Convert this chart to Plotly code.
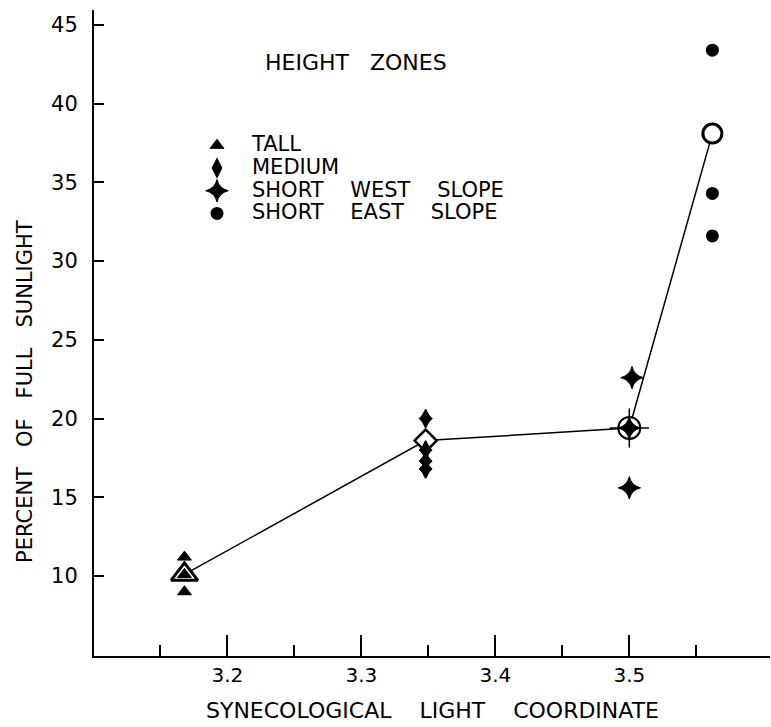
import plotly.graph_objects as go

NB = "\u00a0\u00a0\u00a0"
NB4 = "\u00a0\u00a0\u00a0\u00a0"

# ---- data ----
zone_names = ["TALL", "MEDIUM", "SHORT" + NB4 + "WEST" + NB4 + "SLOPE",
              "SHORT" + NB4 + "EAST" + NB4 + "SLOPE"]

tall_x = [3.168, 3.168, 3.168]
tall_y = [11.2, 10.1, 9.0]

medium_x = [3.348, 3.348, 3.348, 3.348]
medium_y = [20.0, 18.0, 17.3, 16.8]

west_x = [3.502, 3.50, 3.50]
west_y = [22.6, 19.4, 15.6]

east_x = [3.562, 3.562, 3.562]
east_y = [43.4, 34.3, 31.6]

mean_x = [3.168, 3.348, 3.50, 3.562]
mean_y = [10.1, 18.6, 19.4, 38.1]

x_tickvals = [3.2, 3.3, 3.4, 3.5]
x_ticktext = ["3.2", "3.3", "3.4", "3.5"]
x_minorvals = [3.15, 3.25, 3.35, 3.45, 3.55]
y_tickvals = [10, 15, 20, 25, 30, 35, 40, 45]
y_ticktext = ["10", "15", "20", "25", "30", "35", "40", "45"]

FONT = "DejaVu Sans"
BLACK = "black"

fig = go.Figure()

# line joining the means
fig.add_trace(go.Scatter(x=mean_x, y=mean_y, mode="lines",
                         line=dict(color=BLACK, width=1.5), showlegend=False,
                         hoverinfo="skip"))

# open mean markers (white filled so the line is hidden beneath)
mean_symbols = ["triangle-up", "diamond", "circle", "circle"]
mean_sizes = [23, 17, 22, 19]
mean_lw = [3, 2.5, 2, 3]
for i in range(4):
    fig.add_trace(go.Scatter(x=[mean_x[i]], y=[mean_y[i]], mode="markers",
                             marker=dict(symbol=mean_symbols[i], size=mean_sizes[i],
                                         color="white",
                                         line=dict(color=BLACK, width=mean_lw[i])),
                             showlegend=False, hoverinfo="skip"))
# cross hair through the west-slope mean circle
fig.add_trace(go.Scatter(x=[mean_x[2]], y=[mean_y[2]], mode="markers",
                         marker=dict(symbol="cross-thin-open", size=28, color=BLACK,
                                     line=dict(color=BLACK, width=1.5)),
                         showlegend=False, hoverinfo="skip"))

def lab(s):
    return '<span style="font-size:21px">' + s + '</span>'

# individual points
fig.add_trace(go.Scatter(x=tall_x, y=tall_y, mode="markers", name=lab(zone_names[0]),
                         marker=dict(symbol="triangle-up", size=12, color=BLACK,
                                     line=dict(color=BLACK, width=1))))
fig.add_trace(go.Scatter(x=medium_x, y=medium_y, mode="markers", showlegend=False,
                         hoverinfo="skip",
                         marker=dict(symbol="diamond", size=10, color=BLACK,
                                     line=dict(color=BLACK, width=1))))
fig.add_trace(go.Scatter(x=medium_x, y=medium_y, mode="markers", name=lab(zone_names[1]),
                         marker=dict(symbol="diamond-tall", size=13, color=BLACK,
                                     line=dict(color=BLACK, width=1.5))))
fig.add_trace(go.Scatter(x=west_x, y=west_y, mode="markers", showlegend=False,
                         hoverinfo="skip",
                         marker=dict(symbol="diamond", size=8, color=BLACK,
                                     line=dict(color=BLACK, width=1))))
fig.add_trace(go.Scatter(x=west_x, y=west_y, mode="markers", name=lab(zone_names[2]),
                         marker=dict(symbol="star-diamond", size=16, color=BLACK,
                                     line=dict(color=BLACK, width=1))))
fig.add_trace(go.Scatter(x=east_x, y=east_y, mode="markers", name=lab(zone_names[3]),
                         marker=dict(symbol="circle", size=13, color=BLACK,
                                     line=dict(color=BLACK, width=0))))

W, H = 771, 727
L, R, T, B = 94, 1, 10, 71
pw, ph = W - L - R, H - T - B

def px_x(p):
    return (p - L) / pw

def px_y(p):
    return (H - B - p) / ph

fig.update_layout(
    width=W, height=H,
    margin=dict(l=L, r=R, t=T, b=B),
    paper_bgcolor="white", plot_bgcolor="white",
    font=dict(family=FONT, color=BLACK, size=19),
    xaxis=dict(range=[3.1005, 3.605], showgrid=False, zeroline=False,
               showline=True, linecolor=BLACK, linewidth=2,
               ticks="inside", ticklen=21, tickwidth=2, tickcolor=BLACK,
               tickvals=x_tickvals, ticktext=x_ticktext,
               tickfont=dict(size=20, family=FONT),
               ticklabelstandoff=0,
               minor=dict(tickvals=x_minorvals, ticks="inside", ticklen=11,
                          tickwidth=2, tickcolor=BLACK, showgrid=False)),
    yaxis=dict(range=[4.92, 45.95], showgrid=False, zeroline=False,
               showline=True, linecolor=BLACK, linewidth=2,
               ticks="inside", ticklen=10, tickwidth=2, tickcolor=BLACK,
               tickvals=y_tickvals, ticktext=y_ticktext,
               tickfont=dict(size=21, family=FONT),
               ticklabelstandoff=10),
    legend=dict(x=px_x(182), y=px_y(129), xanchor="left", yanchor="top",
                font=dict(size=15.15, family=FONT), itemwidth=60,
                bgcolor="rgba(0,0,0,0)", borderwidth=0),
    annotations=[
        dict(text="HEIGHT" + NB + "ZONES", x=px_x(356), y=px_y(63),
             xref="paper", yref="paper", showarrow=False,
             font=dict(size=22, family=FONT), xanchor="center", yanchor="middle"),
        dict(text="SYNECOLOGICAL" + NB4 + "LIGHT" + NB4 + "COORDINATE",
             x=px_x(432), y=px_y(710), xref="paper", yref="paper", showarrow=False,
             font=dict(size=22, family=FONT), xanchor="center", yanchor="middle"),
        dict(text="PERCENT" + NB + "OF" + NB + "FULL" + NB + "SUNLIGHT",
             x=px_x(25), y=px_y(392), xref="paper", yref="paper", showarrow=False,
             textangle=-90, font=dict(size=21, family=FONT),
             xanchor="center", yanchor="middle"),
    ],
)

fig.write_html("out.html",
               config={"displayModeBar": False},
               post_script="document.body.style.margin='0';document.body.style.padding='0';")
